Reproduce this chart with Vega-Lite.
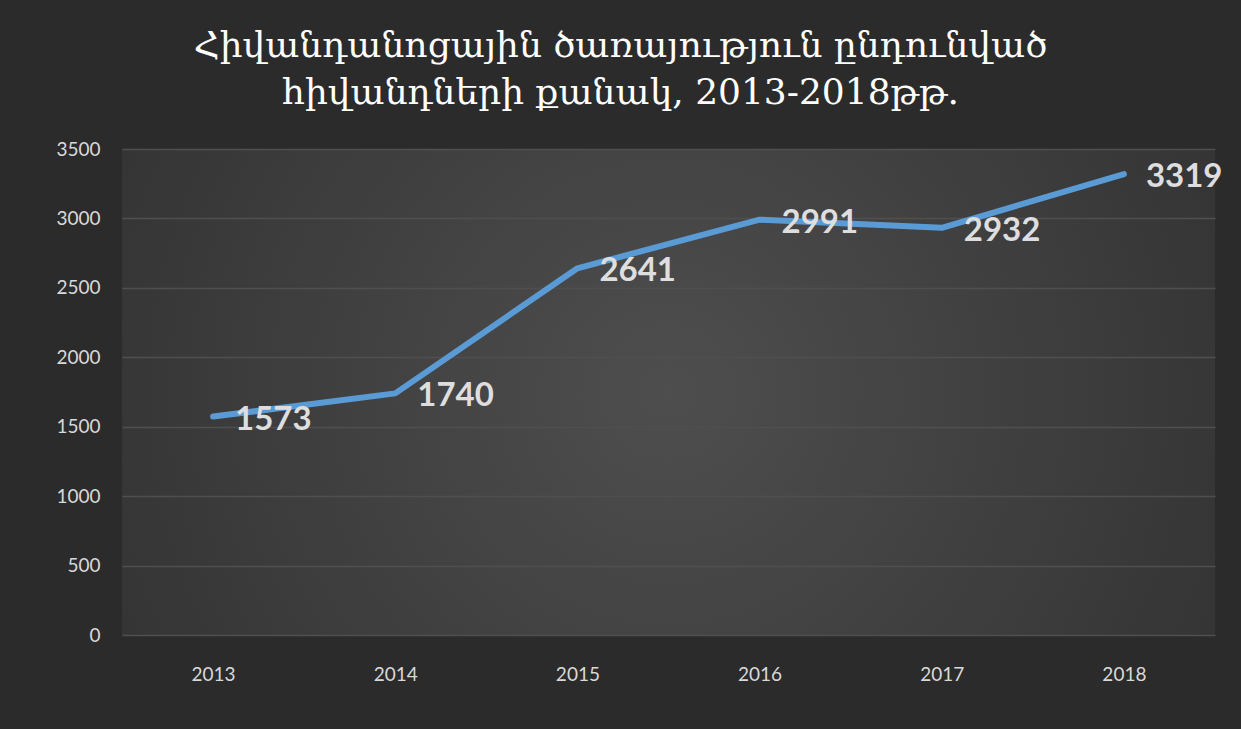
{
  "$schema": "https://vega.github.io/schema/vega-lite/v6.json",
  "autosize": {"type": "none"},
  "width": 1093,
  "height": 486,
  "padding": {"left": 122, "top": 149, "right": 26, "bottom": 94},
  "background": "#2b2b2b",
  "title": {
    "text": ["Հիվանդանոցային ծառայություն  ընդունված", "հիվանդների քանակ, 2013-2018թթ."],
    "font": "DejaVu Serif",
    "fontSize": 36,
    "fontWeight": "normal",
    "color": "#ffffff",
    "anchor": "middle",
    "dx": -48,
    "offset": 28,
    "lineHeight": 47
  },
  "config": {
    "view": {
      "stroke": null,
      "fill": {
        "gradient": "radial",
        "x1": 0.5, "y1": 0.5, "r1": 0,
        "x2": 0.5, "y2": 0.5, "r2": 0.75,
        "stops": [
          {"offset": 0, "color": "#4e4e4e"},
          {"offset": 1, "color": "#2b2b2b"}
        ]
      }
    },
    "axis": {
      "labelFont": "Lato",
      "labelFontSize": 19,
      "labelColor": "#d9d9d9",
      "domain": false,
      "ticks": false,
      "title": null
    }
  },
  "data": {
    "values": [
      {"year": "2013", "value": 1573},
      {"year": "2014", "value": 1740},
      {"year": "2015", "value": 2641},
      {"year": "2016", "value": 2991},
      {"year": "2017", "value": 2932},
      {"year": "2018", "value": 3319}
    ]
  },
  "encoding": {
    "x": {
      "field": "year",
      "type": "ordinal",
      "scale": {"type": "point", "padding": 0.5},
      "axis": {"labelAngle": 0, "labelPadding": 30, "grid": false}
    },
    "y": {
      "field": "value",
      "type": "quantitative",
      "scale": {"domain": [0, 3500]},
      "axis": {
        "values": [0, 500, 1000, 1500, 2000, 2500, 3000, 3500],
        "grid": true,
        "gridColor": "#4f4f4f",
        "gridWidth": 1.3,
        "labelPadding": 22,
        "format": "d"
      }
    }
  },
  "layer": [
    {
      "mark": {"type": "line", "color": "#5b9bd5", "strokeWidth": 6, "strokeCap": "round", "strokeJoin": "round"}
    },
    {
      "mark": {
        "type": "text",
        "align": "left",
        "baseline": "middle",
        "dx": 22,
        "dy": 3,
        "font": "Lato",
        "fontSize": 33,
        "fontWeight": "bold",
        "color": "#dedede"
      },
      "encoding": {"text": {"field": "value", "type": "quantitative", "format": "d"}}
    }
  ]
}
